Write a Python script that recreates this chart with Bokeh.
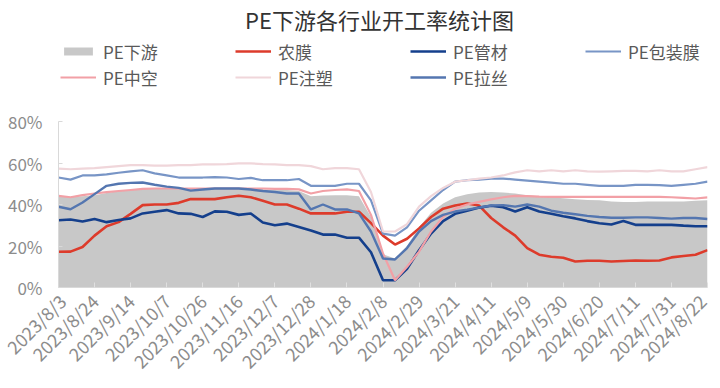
import math
from bokeh.plotting import figure
from bokeh.models import (ColumnDataSource, Range1d, FixedTicker, PrintfTickFormatter,
                          Legend, LegendItem, Label)
from bokeh.embed import file_html
from bokeh.resources import INLINE

dates = ["2023/8/3", "2023/8/10", "2023/8/17", "2023/8/24", "2023/8/31", "2023/9/7", "2023/9/14",
         "2023/9/21", "2023/9/28", "2023/10/7", "2023/10/12", "2023/10/19", "2023/10/26",
         "2023/11/2", "2023/11/9", "2023/11/16", "2023/11/23", "2023/11/30", "2023/12/7",
         "2023/12/14", "2023/12/21", "2023/12/28", "2024/1/4", "2024/1/11", "2024/1/18",
         "2024/1/25", "2024/2/1", "2024/2/8", "2024/2/15", "2024/2/22", "2024/2/29",
         "2024/3/7", "2024/3/14", "2024/3/21", "2024/3/28", "2024/4/3", "2024/4/11",
         "2024/4/18", "2024/4/25", "2024/5/9", "2024/5/16", "2024/5/23", "2024/5/30",
         "2024/6/6", "2024/6/13", "2024/6/20", "2024/6/27", "2024/7/4", "2024/7/11",
         "2024/7/18", "2024/7/25", "2024/7/31", "2024/8/8", "2024/8/15", "2024/8/22"]

pe_downstream = [44, 43.5, 44, 44.5, 45.5, 46.5, 47, 47.5, 47.7, 47.7, 47.5, 47.5, 47.5, 47.5,
                 47.7, 47.7, 47.5, 47.3, 47, 47, 46.5, 44, 44.3, 44.5, 44.5, 44, 34, 16, 14, 20,
                 29, 36, 40.5, 43.5, 45, 45.8, 46, 45.8, 45.3, 44.5, 44, 43.5, 43, 42.5, 42.2,
                 42, 41.5, 41.2, 41.2, 41.5, 41.5, 41.5, 41.5, 41.8, 42]
agri_film = [17.2, 17.3, 19.5, 25, 29.5, 31.5, 35.5, 39.7, 40, 40, 40.8, 42.6, 42.6, 42.6, 43.5,
             44.2, 43.5, 41.8, 40, 40, 38, 35.7, 35.7, 35.7, 36.5, 36.5, 31, 25, 20.7, 23.5,
             28.5, 34, 38, 39.5, 40.5, 39.5, 33.5, 29, 25, 19, 15.8, 14.8, 14.3, 12.5, 12.9,
             12.9, 12.5, 12.8, 13, 12.9, 13, 14.5, 15.2, 15.8, 18]
pipe = [32.4, 32.8, 31.8, 33, 31.5, 32.5, 33.3, 35.7, 36.5, 37.3, 35.7, 35.5, 34, 36.7, 36.5,
        35, 35.7, 31.3, 30, 30.8, 29.2, 27.5, 25.5, 25.5, 24, 24, 17, 3.5, 3.5, 9, 18, 26, 32,
        35.5, 37, 38.5, 39.4, 38.7, 36.6, 38.7, 36.6, 35.5, 34.3, 33.3, 32, 31, 30.4, 32,
        30.2, 30.2, 30.2, 30.2, 29.8, 29.5, 29.5]
packaging = [53, 52, 54, 54, 54.5, 55.3, 56, 56.5, 55, 54, 53, 53, 53, 53.2, 53, 52.3, 52.8,
             51.7, 51.7, 51.7, 52.3, 49, 49, 49, 50, 50, 42, 26, 25, 29, 37, 42, 47, 51, 51.7,
             52, 52.5, 52.5, 52, 51.5, 51, 50.5, 50, 50, 49.5, 49, 49, 49, 49.5, 49.5, 49.3,
             49, 49.5, 50, 51]
hollow = [44.2, 43.5, 44.5, 45.3, 46, 46.5, 47, 47.5, 47.7, 47.7, 47.7, 47.7, 47.7, 47.7, 47.7,
          47.7, 47.7, 47.7, 47.5, 47.5, 47.3, 45.3, 46.5, 47, 47.3, 46.5, 35, 16.4, 3.5, 10,
          17.3, 27, 34, 38, 40, 41.3, 42.5, 43.5, 44.2, 44, 43.8, 43.7, 43.7, 43.7, 43.7,
          43.7, 43.7, 43.7, 43.7, 43.7, 43.7, 43.5, 43.2, 42.9, 43.4]
injection = [57.3, 57, 57.3, 57.5, 58, 58.5, 59, 59, 58.7, 58.7, 59, 59, 59.3, 59.3, 59.5,
             59.8, 59.8, 59.5, 59.3, 59, 59, 58.5, 57, 57.5, 57.5, 57, 46, 27, 27, 30.5, 39,
             44, 48, 51, 51.7, 52.5, 53, 54, 55.5, 56.5, 56, 56.5, 56, 56.5, 56, 55.8, 56,
             56.2, 56.2, 56, 56.5, 56, 56, 57, 58]
raffia = [38.9, 37.7, 41, 45, 49, 50, 50.4, 50.6, 49.5, 48.6, 48, 46.7, 47.2, 47.7, 47.7,
          47.7, 47.2, 46.5, 46, 45.3, 45.3, 37.6, 40, 37.6, 37.6, 35.7, 27, 14, 13.5, 19, 27,
          32, 35, 36.6, 37.5, 38.5, 39.5, 39.7, 39, 40, 39, 37, 36, 35.3, 34.5, 34, 33.6,
          33.6, 33.8, 33.8, 33.5, 33.2, 33.5, 33.5, 33]

y_ticks = [0, 20, 40, 60, 80]
tick_step = 3

FONT = "Noto Sans CJK SC"

FRAME_H = 281
PX_PER_UNIT = 2.075
idx = list(range(len(dates)))
src = ColumnDataSource(dict(x=idx, down=pe_downstream, agri=agri_film, pipe=pipe,
                            pack=packaging, hollow=hollow, inj=injection, raffia=raffia))

p = figure(frame_width=649, frame_height=FRAME_H,
           output_backend="svg", toolbar_location=None,
           x_range=Range1d(0, len(dates) - 1), y_range=Range1d(0, FRAME_H / PX_PER_UNIT),
           min_border_left=58, min_border_right=4, min_border_top=6, min_border_bottom=0)
p.outline_line_color = None
p.grid.visible = False
p.background_fill_color = "white"

r_down = p.varea(x="x", y1=0, y2="down", source=src, fill_color="#c8c8c8")
r_agri = p.line("x", "agri", source=src, line_color="#dd3b2b", line_width=2.6)
r_pipe = p.line("x", "pipe", source=src, line_color="#143f8c", line_width=2.6)
r_pack = p.line("x", "pack", source=src, line_color="#7895c6", line_width=2.2)
r_hollow = p.line("x", "hollow", source=src, line_color="#f2a0a6", line_width=2.2)
r_inj = p.line("x", "inj", source=src, line_color="#f0d6da", line_width=2.2)
r_raffia = p.line("x", "raffia", source=src, line_color="#5476b0", line_width=2.4)

# x axis
xa = p.xaxis[0]
xa.ticker = FixedTicker(ticks=idx[::tick_step])
xa.major_label_overrides = {i: dates[i] for i in idx[::tick_step]}
xa.major_label_orientation = math.pi / 4
xa.axis_line_color = "#d9d9d9"
xa.major_tick_line_color = "#e0e0e0"
xa.major_tick_in = 5
xa.major_tick_out = 0
xa.minor_tick_line_color = None
xa.major_label_text_font = FONT
xa.major_label_text_font_size = "18px"
xa.major_label_text_color = "#8c8c8c"
xa.major_label_standoff = 10

ya = p.yaxis[0]
ya.ticker = FixedTicker(ticks=y_ticks)
ya.bounds = (0, 80)
ya.formatter = PrintfTickFormatter(format="%d%%")
ya.axis_line_color = "#d9d9d9"
ya.major_tick_line_color = "#d9d9d9"
ya.major_tick_in = 4
ya.major_tick_out = 0
ya.minor_tick_line_color = None
ya.major_label_text_font = FONT
ya.major_label_text_font_size = "17px"
ya.major_label_text_color = "#8c8c8c"
ya.major_label_standoff = 16

items = [LegendItem(label="PE下游", renderers=[r_down]),
         LegendItem(label="农膜", renderers=[r_agri]),
         LegendItem(label="PE管材", renderers=[r_pipe]),
         LegendItem(label="PE包装膜", renderers=[r_pack]),
         LegendItem(label="PE中空", renderers=[r_hollow]),
         LegendItem(label="PE注塑", renderers=[r_inj]),
         LegendItem(label="PE拉丝", renderers=[r_raffia])]
legend = Legend(items=items, orientation="horizontal", ncols=4, location=(2, 197),
                glyph_width=36, glyph_height=10, label_standoff=7, label_width=132,
                label_height=26, spacing=0, padding=0, margin=0,
                border_line_color=None, background_fill_alpha=0,
                label_text_font=FONT, label_text_font_size="17px",
                label_text_color="#595959")
p.add_layout(legend)

title = Label(x=321, y=FRAME_H - 12, x_units="screen", y_units="screen",
              text="PE下游各行业开工率统计图", text_align="center", text_baseline="middle",
              text_font=FONT, text_font_size="22px", text_color="#333333")
p.add_layout(title)

open("out.html", "w").write(file_html(p, INLINE))
